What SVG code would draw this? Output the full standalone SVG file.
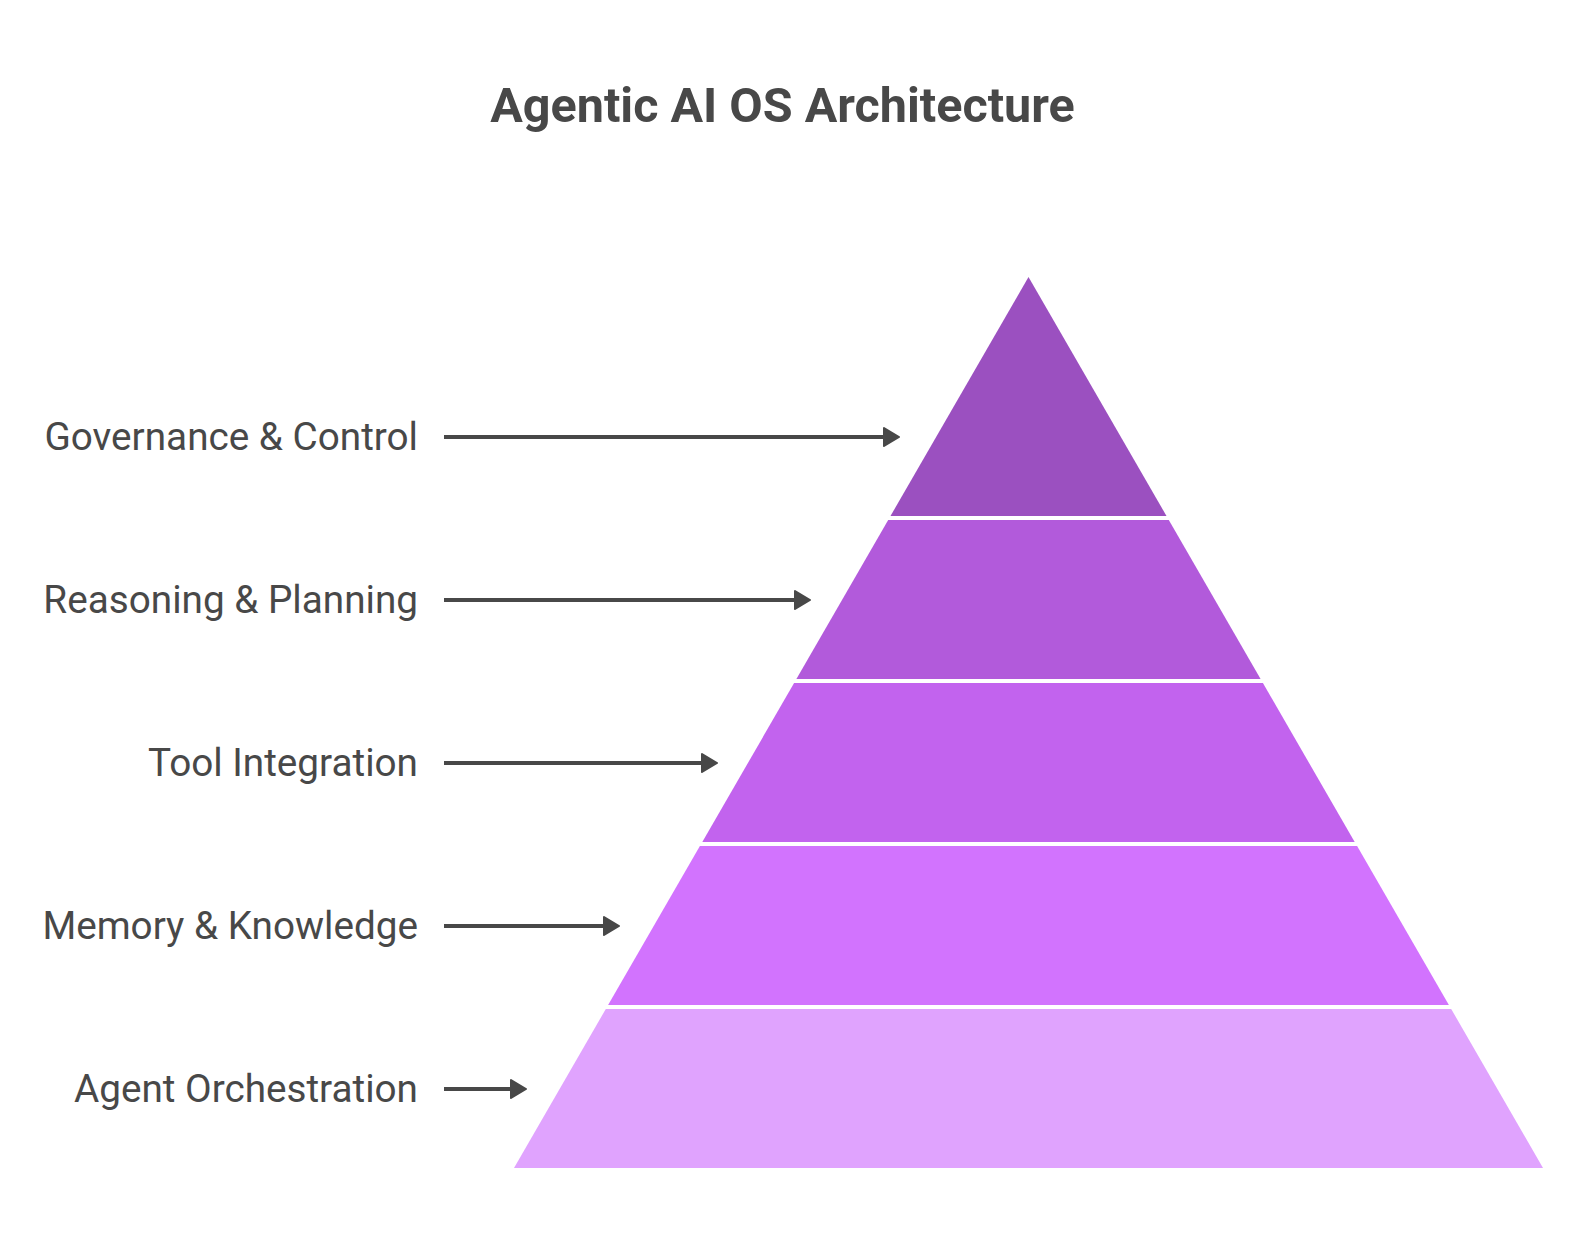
<svg xmlns="http://www.w3.org/2000/svg" width="1578" height="1236" viewBox="0 0 1578 1236">
  <defs>
    <style>
      .title { font-family: Roboto, "Liberation Sans", sans-serif; font-weight: 700; font-size: 48.5px; fill: #484848; }
      .label { font-family: Roboto, "Liberation Sans", sans-serif; font-size: 38.7px; fill: #484848; text-anchor: end; }
      .conn { stroke: #484848; stroke-width: 4; fill: none; }
      .head { fill: #484848; stroke: #484848; stroke-width: 2; stroke-linejoin: round; }
    </style>
  </defs>
  <rect width="1578" height="1236" fill="#ffffff"/>
  <text class="title" x="782.5" y="122" text-anchor="middle">Agentic AI OS Architecture</text>

  <g id="layer-governance">
    <polygon points="1028.5,277 1166.5,516 890.5,516" fill="#9b50c0"/>
  </g>
  <g id="layer-reasoning">
    <polygon points="888.2,520 1168.8,520 1260.6,679 796.4,679" fill="#b25adb"/>
  </g>
  <g id="layer-tool">
    <polygon points="794.1,683 1262.9,683 1354.7,842 702.3,842" fill="#c263ee"/>
  </g>
  <g id="layer-memory">
    <polygon points="699.9,846 1357.1,846 1448.9,1005 608.1,1005" fill="#d273fe"/>
  </g>
  <g id="layer-agent">
    <polygon points="605.8,1009 1451.2,1009 1543,1168 514,1168" fill="#e0a3fe"/>
  </g>

  <g id="label-governance"><text class="label" x="418" y="450">Governance &amp; Control</text></g>
  <g id="label-reasoning"><text class="label" x="418" y="613">Reasoning &amp; Planning</text></g>
  <g id="label-tool"><text class="label" x="418" y="776">Tool Integration</text></g>
  <g id="label-memory"><text class="label" x="418" y="939">Memory &amp; Knowledge</text></g>
  <g id="label-agent"><text class="label" x="418" y="1102">Agent Orchestration</text></g>

  <g id="connectors">
    <line class="conn" x1="444" y1="437" x2="885" y2="437"/>
    <polygon class="head" points="884,428 899,437 884,446"/>
    <line class="conn" x1="444" y1="600" x2="796" y2="600"/>
    <polygon class="head" points="795,591 810,600 795,609"/>
    <line class="conn" x1="444" y1="763" x2="703" y2="763"/>
    <polygon class="head" points="702,754 717,763 702,772"/>
    <line class="conn" x1="444" y1="926" x2="605" y2="926"/>
    <polygon class="head" points="604,917 619,926 604,935"/>
    <line class="conn" x1="444" y1="1089" x2="512" y2="1089"/>
    <polygon class="head" points="511,1080 526,1089 511,1098"/>
  </g>
</svg>
